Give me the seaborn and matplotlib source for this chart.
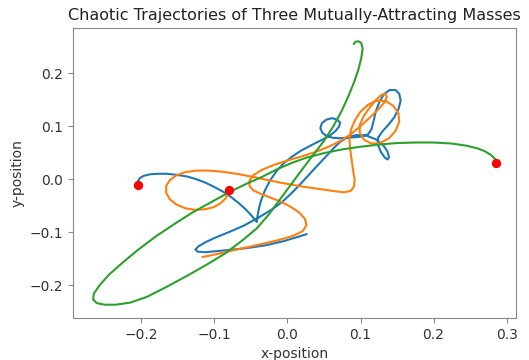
import seaborn as sns
import pandas as pd
import numpy as np
import matplotlib
matplotlib.use('Agg')
import matplotlib.pyplot as plt

# trajectories (first point = marked position)
blue_x = [-0.205, -0.205, -0.202, -0.197, -0.188, -0.177, -0.165, -0.152, -0.138, -0.125,
          -0.112, -0.100, -0.088, -0.077, -0.067, -0.058, -0.051, -0.046, -0.042, -0.041,
          -0.039, -0.036, -0.031, -0.024, -0.015, -0.005, 0.006, 0.019, 0.030, 0.040,
          0.050, 0.059, 0.066, 0.071, 0.072, 0.068, 0.061, 0.053, 0.047, 0.045,
          0.048, 0.054, 0.062, 0.072, 0.085, 0.100, 0.110, 0.115, 0.118, 0.121,
          0.126, 0.132, 0.140, 0.148, 0.153, 0.155, 0.152, 0.146, 0.138, 0.130,
          0.124, 0.124, 0.128, 0.133, 0.137, 0.139, 0.137, 0.131, 0.121, 0.108,
          0.094, 0.082, 0.072, 0.063, 0.053, 0.042, 0.030, 0.018, 0.006, -0.007,
          -0.022, -0.040, -0.060, -0.080, -0.098, -0.112, -0.122, -0.126, -0.123, -0.112,
          -0.090, -0.060, -0.030, -0.005, 0.012, 0.026]
blue_y = [-0.012, -0.005, 0.002, 0.006, 0.009, 0.010, 0.010, 0.008, 0.005, 0.000,
          -0.007, -0.015, -0.024, -0.034, -0.045, -0.056, -0.066, -0.074, -0.081, -0.070,
          -0.055, -0.040, -0.022, -0.003, 0.015, 0.030, 0.042, 0.054, 0.062, 0.069,
          0.076, 0.083, 0.091, 0.100, 0.107, 0.112, 0.115, 0.112, 0.105, 0.096,
          0.087, 0.081, 0.078, 0.077, 0.078, 0.080, 0.084, 0.094, 0.110, 0.128,
          0.146, 0.160, 0.168, 0.168, 0.161, 0.148, 0.132, 0.116, 0.102, 0.090,
          0.078, 0.064, 0.051, 0.041, 0.037, 0.041, 0.052, 0.064, 0.075, 0.082,
          0.083, 0.079, 0.070, 0.058, 0.043, 0.027, 0.009, -0.009, -0.026, -0.043,
          -0.058, -0.073, -0.088, -0.100, -0.110, -0.119, -0.127, -0.133, -0.137, -0.138,
          -0.135, -0.131, -0.125, -0.117, -0.110, -0.104]

orange_x = [-0.080, -0.081, -0.085, -0.092, -0.101, -0.113, -0.127, -0.140, -0.152, -0.161,
            -0.166, -0.166, -0.161, -0.152, -0.140, -0.125, -0.108, -0.090, -0.070, -0.050,
            -0.030, -0.005, 0.020, 0.045, 0.065, 0.078, 0.087, 0.091, 0.092, 0.090,
            0.088, 0.086, 0.085, 0.087, 0.092, 0.100, 0.110, 0.122, 0.135, 0.145,
            0.152, 0.153, 0.148, 0.139, 0.127, 0.115, 0.105, 0.099, 0.099, 0.104,
            0.112, 0.121, 0.128, 0.134, 0.136, 0.133, 0.124, 0.112, 0.100, 0.088,
            0.074, 0.058, 0.040, 0.020, 0.000, -0.018, -0.034, -0.046, -0.052, -0.052,
            -0.047, -0.038, -0.025, -0.010, 0.004, 0.016, 0.024, 0.026, 0.021, 0.008,
            -0.012, -0.040, -0.070, -0.095, -0.116]
orange_y = [-0.020, -0.028, -0.037, -0.046, -0.053, -0.057, -0.058, -0.055, -0.048, -0.038,
            -0.026, -0.013, -0.002, 0.007, 0.013, 0.016, 0.016, 0.014, 0.010, 0.005,
            -0.001, -0.008, -0.014, -0.019, -0.023, -0.025, -0.022, -0.014, -0.002, 0.015,
            0.035, 0.055, 0.075, 0.093, 0.110, 0.127, 0.140, 0.148, 0.147, 0.138,
            0.124, 0.108, 0.091, 0.077, 0.068, 0.067, 0.074, 0.087, 0.102, 0.118,
            0.134, 0.149, 0.158, 0.161, 0.155, 0.145, 0.131, 0.115, 0.100, 0.086,
            0.073, 0.062, 0.052, 0.043, 0.035, 0.027, 0.018, 0.008, -0.003, -0.013,
            -0.021, -0.027, -0.034, -0.042, -0.052, -0.063, -0.075, -0.087, -0.098, -0.107,
            -0.115, -0.124, -0.133, -0.141, -0.147]

green_x = [0.285, 0.284, 0.279, 0.271, 0.260, 0.245, 0.225, 0.200, 0.175, 0.150,
           0.125, 0.100, 0.075, 0.050, 0.025, 0.005, -0.015, -0.035, -0.058, -0.080,
           -0.105, -0.130, -0.155, -0.180, -0.205, -0.226, -0.244, -0.257, -0.265, -0.266,
           -0.261, -0.250, -0.235, -0.215, -0.192, -0.165, -0.138, -0.110, -0.085, -0.062,
           -0.042, -0.025, -0.010, 0.005, 0.020, 0.035, 0.050, 0.063, 0.074, 0.083,
           0.091, 0.097, 0.101, 0.103, 0.101, 0.097, 0.093, 0.091]
green_y = [0.031, 0.038, 0.045, 0.052, 0.058, 0.063, 0.067, 0.069, 0.069, 0.068,
           0.065, 0.061, 0.056, 0.049, 0.040, 0.030, 0.018, 0.004, -0.010, -0.025,
           -0.044, -0.063, -0.085, -0.108, -0.134, -0.158, -0.180, -0.200, -0.216, -0.227,
           -0.234, -0.237, -0.237, -0.233, -0.222, -0.203, -0.183, -0.161, -0.140, -0.116,
           -0.093, -0.066, -0.038, -0.010, 0.018, 0.045, 0.072, 0.100, 0.128, 0.155,
           0.182, 0.206, 0.228, 0.246, 0.257, 0.260, 0.259, 0.255]

paths = [(blue_x, blue_y, '#1f77b4'), (orange_x, orange_y, '#ff7f0e'), (green_x, green_y, '#2ca02c')]

fig, ax = plt.subplots(figsize=(5.29, 3.6), dpi=100)
fig.subplots_adjust(left=0.138, right=0.975, bottom=0.117, top=0.922)

for px, py, c in paths:
    sns.lineplot(x=px, y=py, sort=False, estimator=None, color=c, lw=1.5, ax=ax)

# marked positions
start_x = [p[0][0] for p in paths]
start_y = [p[1][0] for p in paths]
sns.scatterplot(x=start_x, y=start_y, color='red', s=45, linewidth=0, zorder=5, ax=ax)

for s in ax.spines.values():
    s.set_color('#888888')
ax.tick_params(colors='#888888', labelcolor='#333333', labelsize=10)
ax.set_title('Chaotic Trajectories of Three Mutually-Attracting Masses', fontsize=11.5, color='#222222')
ax.set_xlabel('x-position', fontsize=10, color='#333333')
ax.set_ylabel('y-position', fontsize=10, color='#333333')

fig.savefig('out.png', dpi=100)
